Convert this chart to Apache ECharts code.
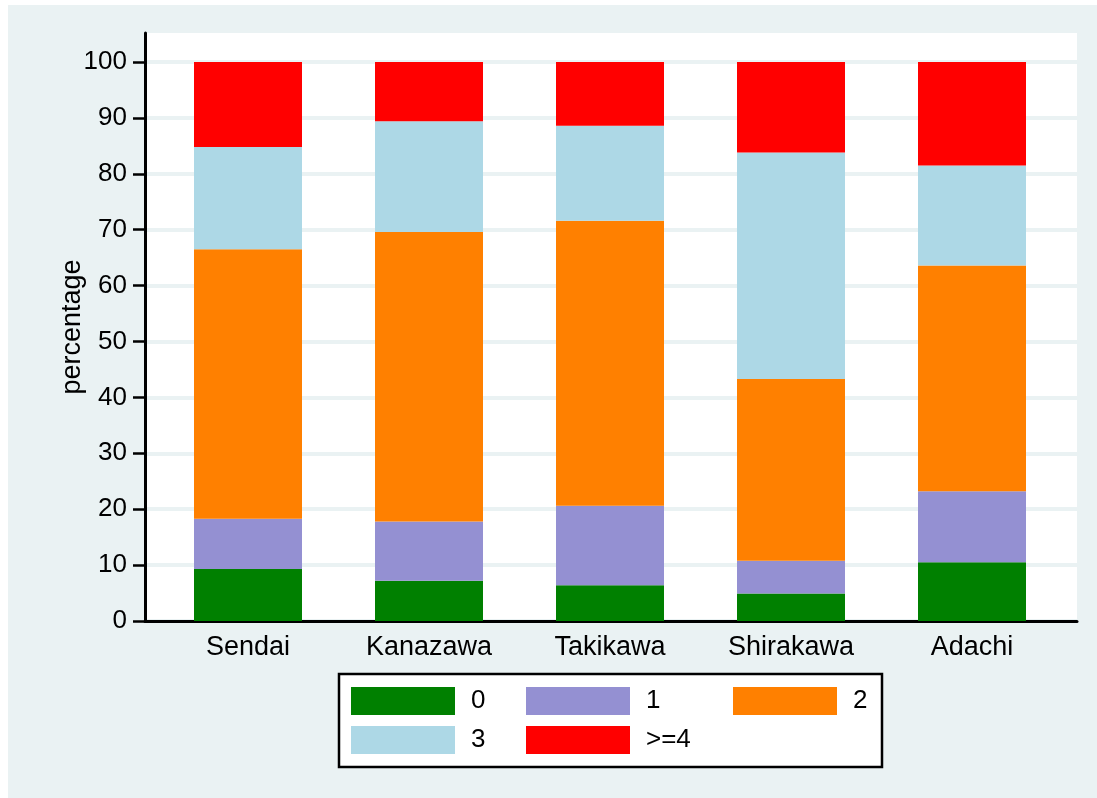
<!DOCTYPE html>
<html>
<head>
<meta charset="utf-8">
<script src="https://cdn.jsdelivr.net/npm/echarts@6/dist/echarts.min.js"></script>
<style>
  html, body { margin: 0; padding: 0; background: #fff; }
  #chart { position: absolute; left: 8px; top: 5px; width: 1089px; height: 793px; }
</style>
</head>
<body>
<div id="chart"></div>
<script>
// 城市
const cities = ["Sendai", "Kanazawa", "Takikawa", "Shirakawa", "Adachi"];
// 各组百分比
const pct0 = [9.3, 7.2, 6.4, 4.9, 10.5];
const pct1 = [9.0, 10.6, 14.2, 5.9, 12.7];
const pct2 = [48.2, 51.8, 51.0, 32.5, 40.4];
const pct3 = [18.3, 19.8, 17.0, 40.5, 17.9];
const pct4 = [15.2, 10.6, 11.4, 16.2, 18.5];
const groupNames = ["0", "1", "2", "3", ">=4"];
const yTicks = [0, 10, 20, 30, 40, 50, 60, 70, 80, 90, 100];

const colors = ["#008000", "#9490D2", "#FF8000", "#ADD8E6", "#FF0000"];
const font = "'Liberation Sans', Arial, sans-serif";
const yMax = 105.2; // 绘图区顶端留白

const chart = echarts.init(document.getElementById("chart"));

const allData = [pct0, pct1, pct2, pct3, pct4];
const series = allData.map((arr, k) => ({
  name: groupNames[k],
  type: "bar",
  stack: "total",
  barWidth: 108,
  xAxisIndex: 1,
  yAxisIndex: 1,
  itemStyle: { color: colors[k] },
  data: arr
}));

// 图例：按列分开放置
function legendCol(names, left, top) {
  return {
    data: names,
    orient: "vertical",
    left: left,
    top: top,
    padding: 0,
    itemWidth: 104,
    itemHeight: 28,
    itemGap: 11,
    icon: "rect",
    z: 10,
    selectedMode: false,
    textStyle: { fontFamily: font, fontSize: 26, color: "#000", padding: [0, 0, 0, 11] }
  };
}

const options = {
  backgroundColor: "#EAF2F3",
  animation: false,
  grid: [
    // 外框：坐标轴和网格线
    { left: 137, top: 28, width: 932, height: 588, show: true, backgroundColor: "#fff", borderWidth: 0 },
    // 柱子所在区域（两边各留一点）
    { left: 149.5, top: 28, width: 905, height: 588 }
  ],
  xAxis: [
    {
      gridIndex: 0,
      type: "value",
      min: 0,
      max: 1,
      axisLine: { show: true, onZero: false, lineStyle: { color: "#000", width: 3 } },
      axisTick: { show: false },
      axisLabel: { show: false },
      splitLine: { show: false }
    },
    {
      gridIndex: 1,
      type: "category",
      data: cities,
      axisLine: { show: false },
      axisTick: { show: false },
      axisLabel: { fontFamily: font, fontSize: 27, color: "#000", margin: 13 }
    }
  ],
  yAxis: [
    {
      gridIndex: 0,
      type: "value",
      min: 0,
      max: yMax,
      name: "percentage",
      nameLocation: "middle",
      nameGap: 59,
      nameMoveOverlap: false,
      nameTextStyle: { fontFamily: font, fontSize: 27, color: "#000" },
      axisLine: { show: true, onZero: false, lineStyle: { color: "#000", width: 3 } },
      axisTick: { show: true, length: 12, customValues: yTicks, lineStyle: { color: "#000", width: 2.5 } },
      axisLabel: { customValues: yTicks, fontFamily: font, fontSize: 26, color: "#000", margin: 18 },
      splitLine: { show: true, lineStyle: { color: "#EAF2F3", width: 4 } }
    },
    {
      gridIndex: 1,
      type: "value",
      min: 0,
      max: yMax,
      show: false
    }
  ],
  legend: [
    legendCol(["0", "3"], 343, 682),
    legendCol(["1", ">=4"], 518, 682),
    legendCol(["2"], 725, 682)
  ],
  graphic: [
    {
      type: "rect",
      z: 1,
      shape: { x: 331, y: 669, width: 543, height: 93 },
      style: { fill: "#fff", stroke: "#000", lineWidth: 2.5 }
    }
  ],
  series: series
};

chart.setOption(options);
</script>
</body>
</html>
